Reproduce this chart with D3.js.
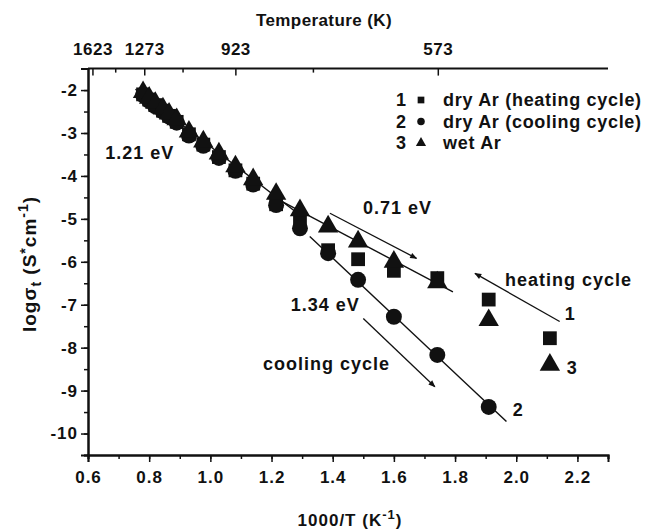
<!DOCTYPE html>
<html>
<head>
<meta charset="utf-8">
<script src="https://cdn.jsdelivr.net/npm/d3@7"></script>
<style>
  body { margin: 0; background: #fff; }
  svg text { font-family: "Liberation Sans", Arial, sans-serif; font-weight: bold; fill: #111; letter-spacing: 1px; }
</style>
</head>
<body>
<svg id="chart" width="647" height="532"></svg>
<script>
// ---- data ----
var xHigh = [0.78, 0.80, 0.82, 0.845, 0.865, 0.89, 0.93, 0.977, 1.028, 1.082, 1.14, 1.215, 1.293];

var heatX = xHigh.concat([1.385, 1.483, 1.60, 1.742, 1.91, 2.11]);
var heatY = [-2.10, -2.22, -2.35, -2.48, -2.60, -2.74, -3.03, -3.27, -3.56, -3.87, -4.18, -4.66, -5.05,
             -5.73, -5.94, -6.21, -6.38, -6.88, -7.78];

var coolX = xHigh.concat([1.385, 1.483, 1.60, 1.742, 1.91]);
var coolY = [-2.12, -2.25, -2.38, -2.50, -2.62, -2.76, -3.06, -3.30, -3.58, -3.88, -4.20, -4.68, -5.22,
             -5.80, -6.42, -7.28, -8.17, -9.38];

var wetX = xHigh.concat([1.385, 1.483, 1.60, 1.742, 1.91, 2.11]);
var wetY = [-2.05, -2.18, -2.30, -2.43, -2.55, -2.68, -2.97, -3.20, -3.48, -3.78, -4.08, -4.42, -4.80,
            -5.18, -5.53, -6.00, -6.48, -7.36, -8.40];

// fitted lines (endpoints)
var fit121 = [[0.755, -1.98], [1.30, -4.95]];
var fit071 = [[1.215, -4.52], [1.793, -6.70]];
var fit134 = [[1.325, -5.41], [1.968, -9.72]];

// arrows [from, to]
var arrows = [
  [[1.391, -4.87], [1.674, -5.92]],
  [[2.142, -7.39], [1.865, -6.27]],
  [[1.500, -7.32], [1.734, -8.91]]
];

// annotations
var notes = [
  {x: 0.656, y: -3.61, t: "1.21 eV"},
  {x: 1.499, y: -4.89, t: "0.71 eV"},
  {x: 1.263, y: -7.15, t: "1.34 eV"},
  {x: 1.172, y: -8.52, t: "cooling cycle"},
  {x: 1.963, y: -6.57, t: "heating cycle"},
  {x: 2.159, y: -7.36, t: "1"},
  {x: 2.165, y: -8.61, t: "3"},
  {x: 1.989, y: -9.59, t: "2"}
];

var legendNums = ["1", "2", "3"];
var legendText = ["dry Ar (heating cycle)", "dry Ar (cooling cycle)", "wet Ar"];

var xTicks = [0.6, 0.8, 1.0, 1.2, 1.4, 1.6, 1.8, 2.0, 2.2];
var yTicks = [-2, -3, -4, -5, -6, -7, -8, -9, -10];
var tempTicks = [1623, 1273, 923, 573];
var tempMinor = [1448, 1098, 748];

// ---- layout ----
var svg = d3.select("#chart");
var x = d3.scaleLinear().domain([0.6, 2.3]).range([88, 608]);
var y = d3.scaleLinear().domain([-10.5, -1.5]).range([455, 68.6]);
var fs = "18px";

svg.append("defs").append("marker")
  .attr("id", "head")
  .attr("viewBox", "0 0 10 10")
  .attr("refX", 9).attr("refY", 5)
  .attr("markerWidth", 9).attr("markerHeight", 7)
  .attr("markerUnits", "userSpaceOnUse")
  .attr("orient", "auto")
  .append("path").attr("d", "M0,1 L10,5 L0,9 Z").attr("fill", "#111");

function minorTicks(lo, hi, step) {
  var out = [];
  for (var v = lo; v <= hi + 1e-9; v += step) out.push(+v.toFixed(3));
  return out;
}

// bottom axis
var gx = svg.append("g").attr("transform", "translate(0,455)");
gx.call(d3.axisBottom(x).tickValues(minorTicks(0.6, 2.3, 0.1)).tickSize(4).tickFormat(""));
gx.call(g => g.append("g").call(d3.axisBottom(x).tickValues(xTicks).tickSize(7).tickFormat(d3.format(".1f"))));

// left axis
var gy = svg.append("g").attr("transform", "translate(88,0)");
gy.call(d3.axisLeft(y).tickValues(minorTicks(-10.5, -1.5, 0.5)).tickSize(4).tickFormat(""));
gy.call(g => g.append("g").call(d3.axisLeft(y).tickValues(yTicks).tickSize(7).tickFormat(d => d)));

// top axis (temperature)
var gt = svg.append("g").attr("transform", "translate(0,68.6)");
gt.append("line").attr("x1", 88).attr("x2", 608).attr("stroke", "#111").attr("stroke-width", 2);
gt.selectAll(".tmin").data(tempMinor).join("line")
  .attr("x1", d => x(1000 / d)).attr("x2", d => x(1000 / d))
  .attr("y1", 0).attr("y2", 4).attr("stroke", "#111").attr("stroke-width", 1.5);
gt.selectAll(".tmaj").data(tempTicks).join("line")
  .attr("x1", d => x(1000 / d)).attr("x2", d => x(1000 / d))
  .attr("y1", 0).attr("y2", 7).attr("stroke", "#111").attr("stroke-width", 1.5);
gt.selectAll("text").data(tempTicks).join("text")
  .attr("x", d => x(1000 / d)).attr("y", -14)
  .attr("text-anchor", "middle").style("font-size", "17px").style("letter-spacing", "0.5px")
  .text(d => d);

svg.selectAll(".domain").attr("stroke", "#111").attr("stroke-width", 2);
svg.selectAll(".tick line").attr("stroke", "#111").attr("stroke-width", 1.5);
svg.selectAll(".tick text").style("font-size", "17px").attr("fill", "#111");
gx.selectAll(".tick text").attr("dy", "1.05em");

// axis titles
svg.append("text").attr("x", 324).attr("y", 26).attr("text-anchor", "middle")
  .style("font-size", "17px").style("letter-spacing", "0.4px").text("Temperature (K)");

var xt = svg.append("text").attr("x", 350).attr("y", 526).attr("text-anchor", "middle")
  .style("font-size", "17px");
xt.append("tspan").text("1000/T (K");
xt.append("tspan").attr("dy", -7).style("font-size", "13px").text("-1");
xt.append("tspan").attr("dy", 7).text(")");

var yt = svg.append("text").attr("transform", "translate(36,264) rotate(-90)")
  .attr("text-anchor", "middle").style("font-size", "19px");
yt.append("tspan").text("log\u03c3");
yt.append("tspan").attr("dy", 5).style("font-size", "14px").text("t");
yt.append("tspan").attr("dy", -5).text(" (S");
yt.append("tspan").attr("dy", -6).style("font-size", "14px").text("*");
yt.append("tspan").attr("dy", 6).text("cm");
yt.append("tspan").attr("dy", -8).style("font-size", "14px").text("-1");
yt.append("tspan").attr("dy", 8).text(")");

// fit lines
var line = d3.line().x(d => x(d[0])).y(d => y(d[1]));
svg.selectAll(".fit").data([fit121, fit071, fit134]).join("path")
  .attr("class", "fit").attr("d", line)
  .attr("fill", "none").attr("stroke", "#111").attr("stroke-width", 1.4);

// arrows
svg.selectAll(".arrow").data(arrows).join("path")
  .attr("class", "arrow").attr("d", line)
  .attr("fill", "none").attr("stroke", "#111").attr("stroke-width", 1.3)
  .attr("marker-end", "url(#head)");

// markers
function pts(xs, ys) { return xs.map((v, i) => [v, ys[i]]); }
var series = [
  {data: pts(heatX, heatY), sym: d3.symbolSquare, size: 190},
  {data: pts(coolX, coolY), sym: d3.symbolCircle, size: 200},
  {data: pts(wetX, wetY), sym: d3.symbolTriangle, size: 180}
];
series.forEach(s => {
  svg.append("g").selectAll("path").data(s.data).join("path")
    .attr("transform", d => "translate(" + x(d[0]) + "," + y(d[1]) + ")")
    .attr("d", d3.symbol().type(s.sym).size(s.size))
    .attr("fill", "#111");
});

// annotations
svg.selectAll(".note").data(notes).join("text")
  .attr("class", "note").attr("x", d => x(d.x)).attr("y", d => y(d.y))
  .style("font-size", fs).text(d => d.t);

// legend
var legendSyms = [d3.symbolSquare, d3.symbolCircle, d3.symbolTriangle];
var lg = svg.append("g");
legendNums.forEach((n, i) => {
  var ly = 106 + i * 21.5;
  lg.append("text").attr("x", 396).attr("y", ly).style("font-size", fs).text(n);
  lg.append("path").attr("transform", "translate(421," + (ly - 6) + ")")
    .attr("d", d3.symbol().type(legendSyms[i]).size(45)).attr("fill", "#111");
  lg.append("text").attr("x", 443).attr("y", ly).style("font-size", fs)
    .style("letter-spacing", "0.7px").text(legendText[i]);
});
</script>
</body>
</html>
